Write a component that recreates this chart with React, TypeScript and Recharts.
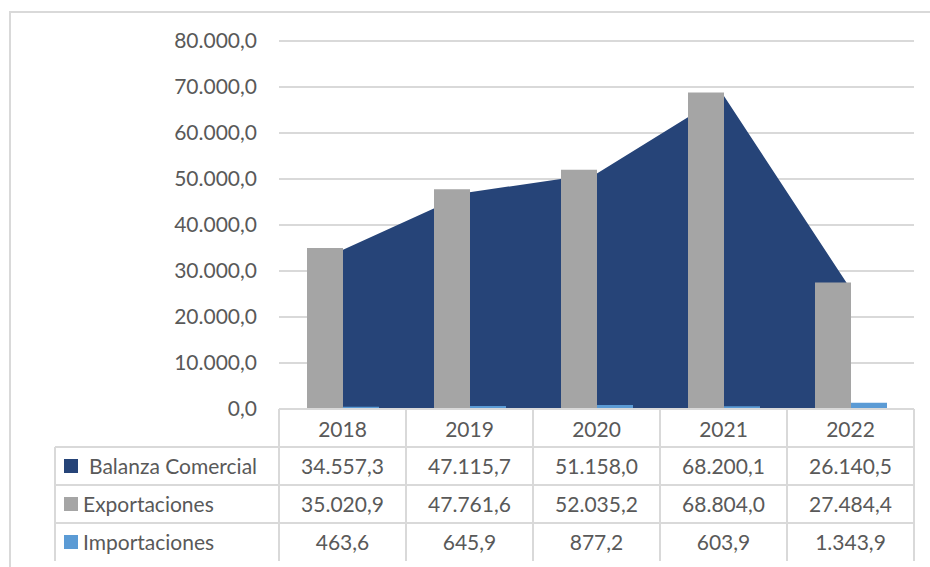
import React from "react";
import {
  ComposedChart,
  Area,
  Bar,
  XAxis,
  YAxis,
  CartesianGrid,
} from "recharts";

const years = ["2018", "2019", "2020", "2021", "2022"];
const balanza = [34557.3, 47115.7, 51158.0, 68200.1, 26140.5];
const exportaciones = [35020.9, 47761.6, 52035.2, 68804.0, 27484.4];
const importaciones = [463.6, 645.9, 877.2, 603.9, 1343.9];
const yTicks = [0, 10000, 20000, 30000, 40000, 50000, 60000, 70000, 80000];

const seriesRows = [
  { name: "Balanza Comercial", color: "#264478", values: balanza, textLeft: 89 },
  { name: "Exportaciones", color: "#A5A5A5", values: exportaciones, textLeft: 83 },
  { name: "Importaciones", color: "#5B9BD5", values: importaciones, textLeft: 83 },
];

const data = years.map((year, i) => ({
  year,
  balanza: balanza[i],
  exportaciones: exportaciones[i],
  importaciones: importaciones[i],
}));

function fmt(v: number) {
  const [i, d] = v.toFixed(1).split(".");
  return i.replace(/\B(?=(\d{3})+(?!\d))/g, ".") + "," + d;
}

const FONT = "Lato, 'Open Sans', sans-serif";
const FS = 21;
const TEXT = "#595959";
const LINE = "#d9d9d9";

// table geometry (matches the plot area)
const plotLeft = 279;
const plotRight = 914;
const axisY = 409;
const rowH = 38;
const labelLeft = 55;

export default function App() {
  const colW = (plotRight - plotLeft) / years.length;
  const lines: React.ReactNode[] = [];
  // horizontal lines under header and each row
  for (let r = 1; r <= seriesRows.length; r++) {
    lines.push(
      <div
        key={"h" + r}
        style={{
          position: "absolute",
          left: labelLeft,
          top: axisY + r * rowH - 1,
          width: plotRight - labelLeft,
          height: 2,
          background: LINE,
        }}
      />
    );
  }
  // vertical lines for columns
  for (let c = 0; c <= years.length; c++) {
    lines.push(
      <div
        key={"v" + c}
        style={{
          position: "absolute",
          left: plotLeft + c * colW - 1,
          top: axisY,
          width: 2,
          height: rowH * (seriesRows.length + 1),
          background: LINE,
        }}
      />
    );
  }
  lines.push(
    <div
      key="vl"
      style={{
        position: "absolute",
        left: labelLeft - 1,
        top: axisY + rowH,
        width: 2,
        height: rowH * seriesRows.length,
        background: LINE,
      }}
    />
  );

  return (
    <div
      style={{
        position: "absolute",
        left: 0,
        top: 0,
        width: 930,
        height: 567,
        background: "#fff",
        overflow: "hidden",
        fontFamily: FONT,
      }}
    >
      <div
        style={{
          position: "absolute",
          left: 9,
          top: 11,
          width: 940,
          height: 600,
          borderLeft: `2px solid ${LINE}`,
          borderTop: `2px solid ${LINE}`,
        }}
      />
      <div style={{ position: "absolute", left: 0, top: 0 }}>
        <ComposedChart
          width={930}
          height={567}
          data={data}
          margin={{ top: 41, right: 930 - plotRight, bottom: 567 - axisY - rowH, left: 0 }}
          barGap={0}
        >
          <CartesianGrid vertical={false} stroke={LINE} strokeWidth={2} />
          <XAxis
            dataKey="year"
            height={rowH}
            axisLine={{ stroke: LINE, strokeWidth: 2 }}
            tickLine={false}
            tickSize={0}
            tickMargin={13}
            tick={{ fill: TEXT, fontSize: FS, fontFamily: FONT }}
          />
          <YAxis
            width={plotLeft}
            domain={[0, 80000]}
            ticks={yTicks}
            axisLine={false}
            tickLine={false}
            tickSize={0}
            tickMargin={22}
            tickFormatter={fmt}
            tick={{ fill: TEXT, fontSize: FS, fontFamily: FONT }}
          />
          <Area
            type="linear"
            dataKey="balanza"
            stroke="none"
            fill="#264478"
            fillOpacity={1}
            isAnimationActive={false}
          />
          <Bar dataKey="exportaciones" fill="#A5A5A5" barSize={36} isAnimationActive={false} />
          <Bar dataKey="importaciones" fill="#5B9BD5" barSize={36} isAnimationActive={false} />
        </ComposedChart>
      </div>
      {lines}
      {seriesRows.map((s, r) => {
        const top = axisY + (r + 1) * rowH;
        return (
          <React.Fragment key={s.name}>
            <div
              style={{
                position: "absolute",
                left: 64,
                top: top + rowH / 2 - 7,
                width: 14,
                height: 14,
                background: s.color,
              }}
            />
            <div
              style={{
                position: "absolute",
                left: s.textLeft,
                top,
                height: rowH,
                lineHeight: rowH + "px",
                fontSize: FS,
                color: TEXT,
                whiteSpace: "nowrap",
              }}
            >
              {s.name}
            </div>
            {s.values.map((v, c) => (
              <div
                key={c}
                style={{
                  position: "absolute",
                  left: plotLeft + c * colW,
                  top,
                  width: colW,
                  height: rowH,
                  lineHeight: rowH + "px",
                  textAlign: "center",
                  fontSize: FS,
                  color: TEXT,
                }}
              >
                {fmt(v)}
              </div>
            ))}
          </React.Fragment>
        );
      })}
    </div>
  );
}
